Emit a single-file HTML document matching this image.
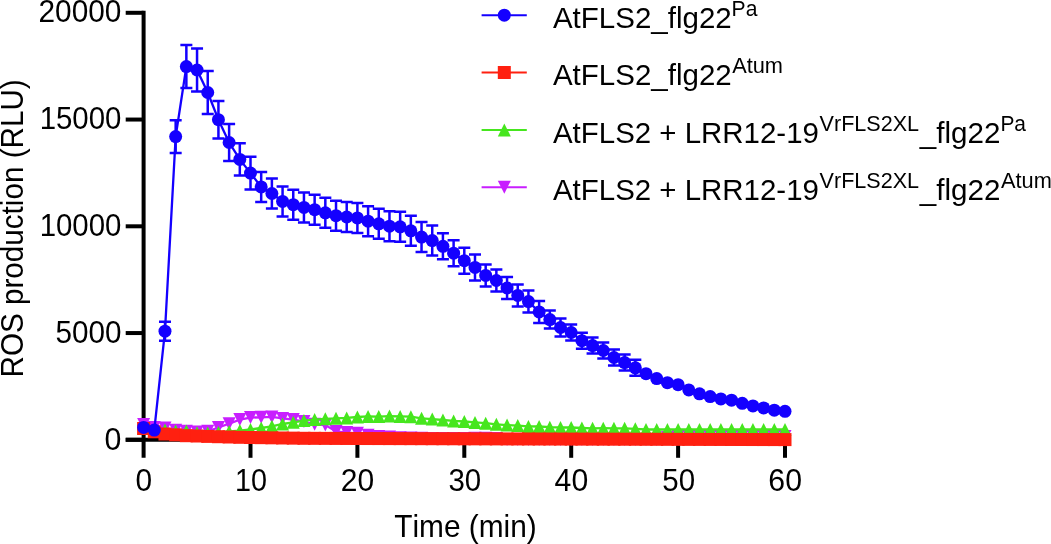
<!DOCTYPE html>
<html><head><meta charset="utf-8"><style>
html,body{margin:0;padding:0;background:#fff;}
body{width:1051px;height:544px;overflow:hidden;position:relative;}
svg{position:absolute;left:0;top:0;will-change:transform;}
text{font-family:"Liberation Sans",sans-serif;fill:#000;font-kerning:none;}
</style></head><body>
<svg width="1051" height="544" viewBox="0 0 1051 544">

<g stroke="#000" stroke-width="4" fill="none" stroke-linecap="butt">
<line x1="143.6" y1="10.8" x2="143.6" y2="457.8"/>
<line x1="125.7" y1="439.8" x2="787.0" y2="439.8"/>
<line x1="125.7" y1="439.80" x2="143.6" y2="439.80"/>
<line x1="125.7" y1="333.05" x2="143.6" y2="333.05"/>
<line x1="125.7" y1="226.30" x2="143.6" y2="226.30"/>
<line x1="125.7" y1="119.55" x2="143.6" y2="119.55"/>
<line x1="125.7" y1="12.80" x2="143.6" y2="12.80"/>
<line x1="250.50" y1="439.8" x2="250.50" y2="457.8"/>
<line x1="357.40" y1="439.8" x2="357.40" y2="457.8"/>
<line x1="464.30" y1="439.8" x2="464.30" y2="457.8"/>
<line x1="571.20" y1="439.8" x2="571.20" y2="457.8"/>
<line x1="678.10" y1="439.8" x2="678.10" y2="457.8"/>
<line x1="785.00" y1="439.8" x2="785.00" y2="457.8"/>
</g>
<text transform="translate(38.50,22.45) scale(0.9750,1)" font-size="30.60">20000</text>
<text transform="translate(39.66,129.30) scale(0.9612,1)" font-size="30.60">15000</text>
<text transform="translate(39.66,236.15) scale(0.9612,1)" font-size="30.60">10000</text>
<text transform="translate(55.41,343.00) scale(0.9703,1)" font-size="30.60">5000</text>
<text transform="translate(104.62,449.85) scale(0.9913,1)" font-size="30.60">0</text>
<text transform="translate(135.53,490.80) scale(0.9776,1)" font-size="30.60">0</text>
<text transform="translate(235.01,490.80) scale(0.9407,1)" font-size="30.60">10</text>
<text transform="translate(340.69,490.80) scale(0.9808,1)" font-size="30.60">20</text>
<text transform="translate(448.38,490.80) scale(0.9629,1)" font-size="30.60">30</text>
<text transform="translate(554.61,490.80) scale(0.9863,1)" font-size="30.60">40</text>
<text transform="translate(662.22,490.80) scale(0.9647,1)" font-size="30.60">50</text>
<text transform="translate(768.37,490.80) scale(0.9876,1)" font-size="30.60">60</text>
<text transform="translate(394.23,536.90) scale(0.9781,1)" font-size="30.52">Time (min)</text>
<text transform="translate(22.8,377.53) rotate(-90) scale(0.9721,1)" font-size="30.52">ROS production (RLU)</text>
<g fill="#c81eff" stroke="none">
<polyline points="143.60,424.60 154.29,427.50 164.98,428.00 175.67,430.30 186.36,431.30 197.05,432.00 207.74,431.30 218.43,427.50 229.12,423.70 239.81,419.60 250.50,417.60 261.19,417.30 271.88,416.90 282.57,418.40 293.26,419.60 303.95,421.60 314.64,424.30 325.33,425.10 336.02,431.40 346.71,432.60 357.40,433.30 368.09,435.20 378.78,436.60 389.47,437.00 400.16,437.75 410.85,438.10 421.54,438.30 432.23,438.40 442.92,438.50 453.61,438.50 464.30,438.50 474.99,438.30 485.68,438.30 496.37,438.50 507.06,439.50 517.75,439.50 528.44,439.50 539.13,439.50 549.82,439.50 560.51,439.50 571.20,439.50 581.89,439.50 592.58,439.50 603.27,439.50 613.96,439.50 624.65,439.50 635.34,439.50 646.03,439.50 656.72,439.50 667.41,437.50 678.10,436.50 688.79,436.50 699.48,436.50 710.17,436.50 720.86,436.50 731.55,436.50 742.24,436.50 752.93,436.50 763.62,436.50 774.31,436.50 785.00,436.50" fill="none" stroke="#c81eff" stroke-width="2.3"/>
<polygon points="137.10,418.10 150.10,418.10 143.60,431.10"/>
<polygon points="147.79,421.00 160.79,421.00 154.29,434.00"/>
<polygon points="158.48,421.50 171.48,421.50 164.98,434.50"/>
<polygon points="169.17,423.80 182.17,423.80 175.67,436.80"/>
<polygon points="179.86,424.80 192.86,424.80 186.36,437.80"/>
<polygon points="190.55,425.50 203.55,425.50 197.05,438.50"/>
<polygon points="201.24,424.80 214.24,424.80 207.74,437.80"/>
<polygon points="211.93,421.00 224.93,421.00 218.43,434.00"/>
<polygon points="222.62,417.20 235.62,417.20 229.12,430.20"/>
<polygon points="233.31,413.10 246.31,413.10 239.81,426.10"/>
<polygon points="244.00,411.10 257.00,411.10 250.50,424.10"/>
<polygon points="254.69,410.80 267.69,410.80 261.19,423.80"/>
<polygon points="265.38,410.40 278.38,410.40 271.88,423.40"/>
<polygon points="276.07,411.90 289.07,411.90 282.57,424.90"/>
<polygon points="286.76,413.10 299.76,413.10 293.26,426.10"/>
<polygon points="297.45,415.10 310.45,415.10 303.95,428.10"/>
<polygon points="308.14,417.80 321.14,417.80 314.64,430.80"/>
<polygon points="318.83,418.60 331.83,418.60 325.33,431.60"/>
<polygon points="329.52,424.90 342.52,424.90 336.02,437.90"/>
<polygon points="340.21,426.10 353.21,426.10 346.71,439.10"/>
<polygon points="350.90,426.80 363.90,426.80 357.40,439.80"/>
<polygon points="361.59,428.70 374.59,428.70 368.09,441.70"/>
<polygon points="372.28,430.10 385.28,430.10 378.78,443.10"/>
<polygon points="382.97,430.50 395.97,430.50 389.47,443.50"/>
<polygon points="393.66,431.25 406.66,431.25 400.16,444.25"/>
<polygon points="404.35,431.60 417.35,431.60 410.85,444.60"/>
<polygon points="415.04,431.80 428.04,431.80 421.54,444.80"/>
<polygon points="425.73,431.90 438.73,431.90 432.23,444.90"/>
<polygon points="436.42,432.00 449.42,432.00 442.92,445.00"/>
<polygon points="447.11,432.00 460.11,432.00 453.61,445.00"/>
<polygon points="457.80,432.00 470.80,432.00 464.30,445.00"/>
<polygon points="468.49,431.80 481.49,431.80 474.99,444.80"/>
<polygon points="479.18,431.80 492.18,431.80 485.68,444.80"/>
<polygon points="489.87,432.00 502.87,432.00 496.37,445.00"/>
<polygon points="500.56,433.00 513.56,433.00 507.06,446.00"/>
<polygon points="511.25,433.00 524.25,433.00 517.75,446.00"/>
<polygon points="521.94,433.00 534.94,433.00 528.44,446.00"/>
<polygon points="532.63,433.00 545.63,433.00 539.13,446.00"/>
<polygon points="543.32,433.00 556.32,433.00 549.82,446.00"/>
<polygon points="554.01,433.00 567.01,433.00 560.51,446.00"/>
<polygon points="564.70,433.00 577.70,433.00 571.20,446.00"/>
<polygon points="575.39,433.00 588.39,433.00 581.89,446.00"/>
<polygon points="586.08,433.00 599.08,433.00 592.58,446.00"/>
<polygon points="596.77,433.00 609.77,433.00 603.27,446.00"/>
<polygon points="607.46,433.00 620.46,433.00 613.96,446.00"/>
<polygon points="618.15,433.00 631.15,433.00 624.65,446.00"/>
<polygon points="628.84,433.00 641.84,433.00 635.34,446.00"/>
<polygon points="639.53,433.00 652.53,433.00 646.03,446.00"/>
<polygon points="650.22,433.00 663.22,433.00 656.72,446.00"/>
<polygon points="660.91,431.00 673.91,431.00 667.41,444.00"/>
<polygon points="671.60,430.00 684.60,430.00 678.10,443.00"/>
<polygon points="682.29,430.00 695.29,430.00 688.79,443.00"/>
<polygon points="692.98,430.00 705.98,430.00 699.48,443.00"/>
<polygon points="703.67,430.00 716.67,430.00 710.17,443.00"/>
<polygon points="714.36,430.00 727.36,430.00 720.86,443.00"/>
<polygon points="725.05,430.00 738.05,430.00 731.55,443.00"/>
<polygon points="735.74,430.00 748.74,430.00 742.24,443.00"/>
<polygon points="746.43,430.00 759.43,430.00 752.93,443.00"/>
<polygon points="757.12,430.00 770.12,430.00 763.62,443.00"/>
<polygon points="767.81,430.00 780.81,430.00 774.31,443.00"/>
<polygon points="778.50,430.00 791.50,430.00 785.00,443.00"/>
</g>
<g fill="#46e61e" stroke="none">
<polyline points="143.60,428.00 154.29,430.00 164.98,430.10 175.67,431.00 186.36,431.00 197.05,432.70 207.74,432.90 218.43,432.50 229.12,431.50 239.81,430.60 250.50,429.50 261.19,428.00 271.88,426.30 282.57,424.00 293.26,422.30 303.95,420.60 314.64,419.60 325.33,418.80 336.02,418.30 346.71,417.90 357.40,417.00 368.09,416.40 378.78,416.60 389.47,416.10 400.16,416.40 410.85,416.70 421.54,418.30 432.23,419.10 442.92,420.00 453.61,420.90 464.30,421.50 474.99,422.40 485.68,423.20 496.37,424.30 507.06,425.10 517.75,425.60 528.44,426.40 539.13,426.50 549.82,427.20 560.51,427.50 571.20,427.50 581.89,428.00 592.58,428.30 603.27,428.20 613.96,428.30 624.65,428.30 635.34,428.80 646.03,429.50 656.72,429.50 667.41,429.50 678.10,429.50 688.79,429.50 699.48,429.50 710.17,429.50 720.86,429.50 731.55,429.50 742.24,429.50 752.93,429.50 763.62,429.50 774.31,429.50 785.00,429.50" fill="none" stroke="#46e61e" stroke-width="2.3"/>
<polygon points="143.60,421.50 150.10,434.50 137.10,434.50"/>
<polygon points="154.29,423.50 160.79,436.50 147.79,436.50"/>
<polygon points="164.98,423.60 171.48,436.60 158.48,436.60"/>
<polygon points="175.67,424.50 182.17,437.50 169.17,437.50"/>
<polygon points="186.36,424.50 192.86,437.50 179.86,437.50"/>
<polygon points="197.05,426.20 203.55,439.20 190.55,439.20"/>
<polygon points="207.74,426.40 214.24,439.40 201.24,439.40"/>
<polygon points="218.43,426.00 224.93,439.00 211.93,439.00"/>
<polygon points="229.12,425.00 235.62,438.00 222.62,438.00"/>
<polygon points="239.81,424.10 246.31,437.10 233.31,437.10"/>
<polygon points="250.50,423.00 257.00,436.00 244.00,436.00"/>
<polygon points="261.19,421.50 267.69,434.50 254.69,434.50"/>
<polygon points="271.88,419.80 278.38,432.80 265.38,432.80"/>
<polygon points="282.57,417.50 289.07,430.50 276.07,430.50"/>
<polygon points="293.26,415.80 299.76,428.80 286.76,428.80"/>
<polygon points="303.95,414.10 310.45,427.10 297.45,427.10"/>
<polygon points="314.64,413.10 321.14,426.10 308.14,426.10"/>
<polygon points="325.33,412.30 331.83,425.30 318.83,425.30"/>
<polygon points="336.02,411.80 342.52,424.80 329.52,424.80"/>
<polygon points="346.71,411.40 353.21,424.40 340.21,424.40"/>
<polygon points="357.40,410.50 363.90,423.50 350.90,423.50"/>
<polygon points="368.09,409.90 374.59,422.90 361.59,422.90"/>
<polygon points="378.78,410.10 385.28,423.10 372.28,423.10"/>
<polygon points="389.47,409.60 395.97,422.60 382.97,422.60"/>
<polygon points="400.16,409.90 406.66,422.90 393.66,422.90"/>
<polygon points="410.85,410.20 417.35,423.20 404.35,423.20"/>
<polygon points="421.54,411.80 428.04,424.80 415.04,424.80"/>
<polygon points="432.23,412.60 438.73,425.60 425.73,425.60"/>
<polygon points="442.92,413.50 449.42,426.50 436.42,426.50"/>
<polygon points="453.61,414.40 460.11,427.40 447.11,427.40"/>
<polygon points="464.30,415.00 470.80,428.00 457.80,428.00"/>
<polygon points="474.99,415.90 481.49,428.90 468.49,428.90"/>
<polygon points="485.68,416.70 492.18,429.70 479.18,429.70"/>
<polygon points="496.37,417.80 502.87,430.80 489.87,430.80"/>
<polygon points="507.06,418.60 513.56,431.60 500.56,431.60"/>
<polygon points="517.75,419.10 524.25,432.10 511.25,432.10"/>
<polygon points="528.44,419.90 534.94,432.90 521.94,432.90"/>
<polygon points="539.13,420.00 545.63,433.00 532.63,433.00"/>
<polygon points="549.82,420.70 556.32,433.70 543.32,433.70"/>
<polygon points="560.51,421.00 567.01,434.00 554.01,434.00"/>
<polygon points="571.20,421.00 577.70,434.00 564.70,434.00"/>
<polygon points="581.89,421.50 588.39,434.50 575.39,434.50"/>
<polygon points="592.58,421.80 599.08,434.80 586.08,434.80"/>
<polygon points="603.27,421.70 609.77,434.70 596.77,434.70"/>
<polygon points="613.96,421.80 620.46,434.80 607.46,434.80"/>
<polygon points="624.65,421.80 631.15,434.80 618.15,434.80"/>
<polygon points="635.34,422.30 641.84,435.30 628.84,435.30"/>
<polygon points="646.03,423.00 652.53,436.00 639.53,436.00"/>
<polygon points="656.72,423.00 663.22,436.00 650.22,436.00"/>
<polygon points="667.41,423.00 673.91,436.00 660.91,436.00"/>
<polygon points="678.10,423.00 684.60,436.00 671.60,436.00"/>
<polygon points="688.79,423.00 695.29,436.00 682.29,436.00"/>
<polygon points="699.48,423.00 705.98,436.00 692.98,436.00"/>
<polygon points="710.17,423.00 716.67,436.00 703.67,436.00"/>
<polygon points="720.86,423.00 727.36,436.00 714.36,436.00"/>
<polygon points="731.55,423.00 738.05,436.00 725.05,436.00"/>
<polygon points="742.24,423.00 748.74,436.00 735.74,436.00"/>
<polygon points="752.93,423.00 759.43,436.00 746.43,436.00"/>
<polygon points="763.62,423.00 770.12,436.00 757.12,436.00"/>
<polygon points="774.31,423.00 780.81,436.00 767.81,436.00"/>
<polygon points="785.00,423.00 791.50,436.00 778.50,436.00"/>
</g>
<g fill="#ff2010" stroke="none">
<polyline points="143.60,428.50 154.29,431.80 164.98,434.00 175.67,434.80 186.36,435.70 197.05,436.00 207.74,436.40 218.43,436.70 229.12,437.00 239.81,437.30 250.50,437.50 261.19,437.66 271.88,437.82 282.57,437.98 293.26,438.14 303.95,438.30 314.64,438.34 325.33,438.38 336.02,438.42 346.71,438.46 357.40,438.50 368.09,438.53 378.78,438.56 389.47,438.59 400.16,438.62 410.85,438.65 421.54,438.68 432.23,438.71 442.92,438.74 453.61,438.77 464.30,438.80 474.99,438.83 485.68,438.86 496.37,438.89 507.06,438.92 517.75,438.95 528.44,438.98 539.13,439.01 549.82,439.04 560.51,439.07 571.20,439.10 581.89,439.12 592.58,439.15 603.27,439.18 613.96,439.20 624.65,439.23 635.34,439.25 646.03,439.28 656.72,439.30 667.41,439.33 678.10,439.35 688.79,439.38 699.48,439.40 710.17,439.43 720.86,439.45 731.55,439.48 742.24,439.50 752.93,439.53 763.62,439.55 774.31,439.58 785.00,439.60" fill="none" stroke="#ff2010" stroke-width="2.3"/>
<rect x="137.10" y="422.00" width="13.0" height="13.0"/>
<rect x="147.79" y="425.30" width="13.0" height="13.0"/>
<rect x="158.48" y="427.50" width="13.0" height="13.0"/>
<rect x="169.17" y="428.30" width="13.0" height="13.0"/>
<rect x="179.86" y="429.20" width="13.0" height="13.0"/>
<rect x="190.55" y="429.50" width="13.0" height="13.0"/>
<rect x="201.24" y="429.90" width="13.0" height="13.0"/>
<rect x="211.93" y="430.20" width="13.0" height="13.0"/>
<rect x="222.62" y="430.50" width="13.0" height="13.0"/>
<rect x="233.31" y="430.80" width="13.0" height="13.0"/>
<rect x="244.00" y="431.00" width="13.0" height="13.0"/>
<rect x="254.69" y="431.16" width="13.0" height="13.0"/>
<rect x="265.38" y="431.32" width="13.0" height="13.0"/>
<rect x="276.07" y="431.48" width="13.0" height="13.0"/>
<rect x="286.76" y="431.64" width="13.0" height="13.0"/>
<rect x="297.45" y="431.80" width="13.0" height="13.0"/>
<rect x="308.14" y="431.84" width="13.0" height="13.0"/>
<rect x="318.83" y="431.88" width="13.0" height="13.0"/>
<rect x="329.52" y="431.92" width="13.0" height="13.0"/>
<rect x="340.21" y="431.96" width="13.0" height="13.0"/>
<rect x="350.90" y="432.00" width="13.0" height="13.0"/>
<rect x="361.59" y="432.03" width="13.0" height="13.0"/>
<rect x="372.28" y="432.06" width="13.0" height="13.0"/>
<rect x="382.97" y="432.09" width="13.0" height="13.0"/>
<rect x="393.66" y="432.12" width="13.0" height="13.0"/>
<rect x="404.35" y="432.15" width="13.0" height="13.0"/>
<rect x="415.04" y="432.18" width="13.0" height="13.0"/>
<rect x="425.73" y="432.21" width="13.0" height="13.0"/>
<rect x="436.42" y="432.24" width="13.0" height="13.0"/>
<rect x="447.11" y="432.27" width="13.0" height="13.0"/>
<rect x="457.80" y="432.30" width="13.0" height="13.0"/>
<rect x="468.49" y="432.33" width="13.0" height="13.0"/>
<rect x="479.18" y="432.36" width="13.0" height="13.0"/>
<rect x="489.87" y="432.39" width="13.0" height="13.0"/>
<rect x="500.56" y="432.42" width="13.0" height="13.0"/>
<rect x="511.25" y="432.45" width="13.0" height="13.0"/>
<rect x="521.94" y="432.48" width="13.0" height="13.0"/>
<rect x="532.63" y="432.51" width="13.0" height="13.0"/>
<rect x="543.32" y="432.54" width="13.0" height="13.0"/>
<rect x="554.01" y="432.57" width="13.0" height="13.0"/>
<rect x="564.70" y="432.60" width="13.0" height="13.0"/>
<rect x="575.39" y="432.62" width="13.0" height="13.0"/>
<rect x="586.08" y="432.65" width="13.0" height="13.0"/>
<rect x="596.77" y="432.68" width="13.0" height="13.0"/>
<rect x="607.46" y="432.70" width="13.0" height="13.0"/>
<rect x="618.15" y="432.73" width="13.0" height="13.0"/>
<rect x="628.84" y="432.75" width="13.0" height="13.0"/>
<rect x="639.53" y="432.78" width="13.0" height="13.0"/>
<rect x="650.22" y="432.80" width="13.0" height="13.0"/>
<rect x="660.91" y="432.83" width="13.0" height="13.0"/>
<rect x="671.60" y="432.85" width="13.0" height="13.0"/>
<rect x="682.29" y="432.88" width="13.0" height="13.0"/>
<rect x="692.98" y="432.90" width="13.0" height="13.0"/>
<rect x="703.67" y="432.93" width="13.0" height="13.0"/>
<rect x="714.36" y="432.95" width="13.0" height="13.0"/>
<rect x="725.05" y="432.98" width="13.0" height="13.0"/>
<rect x="735.74" y="433.00" width="13.0" height="13.0"/>
<rect x="746.43" y="433.03" width="13.0" height="13.0"/>
<rect x="757.12" y="433.05" width="13.0" height="13.0"/>
<rect x="767.81" y="433.08" width="13.0" height="13.0"/>
<rect x="778.50" y="433.10" width="13.0" height="13.0"/>
</g>
<g fill="#1400ff" stroke="none">
<path d="M164.98,321.70V340.70M158.98,321.70H170.98M158.98,340.70H170.98M175.67,120.20V153.00M169.67,120.20H181.67M169.67,153.00H181.67M186.36,45.10V88.10M180.36,45.10H192.36M180.36,88.10H192.36M197.05,48.50V91.50M191.05,48.50H203.05M191.05,91.50H203.05M207.74,71.00V114.00M201.74,71.00H213.74M201.74,114.00H213.74M218.43,101.00V138.40M212.43,101.00H224.43M212.43,138.40H224.43M229.12,124.10V160.90M223.12,124.10H235.12M223.12,160.90H235.12M239.81,143.20V175.60M233.81,143.20H245.81M233.81,175.60H245.81M250.50,156.80V189.40M244.50,156.80H256.50M244.50,189.40H256.50M261.19,171.90V201.90M255.19,171.90H267.19M255.19,201.90H267.19M271.88,178.50V208.50M265.88,178.50H277.88M265.88,208.50H277.88M282.57,186.40V216.40M276.57,186.40H288.57M276.57,216.40H288.57M293.26,189.70V219.70M287.26,189.70H299.26M287.26,219.70H299.26M303.95,192.40V222.40M297.95,192.40H309.95M297.95,222.40H309.95M314.64,194.70V224.70M308.64,194.70H320.64M308.64,224.70H320.64M325.33,197.80V227.80M319.33,197.80H331.33M319.33,227.80H331.33M336.02,200.70V230.70M330.02,200.70H342.02M330.02,230.70H342.02M346.71,202.00V232.00M340.71,202.00H352.71M340.71,232.00H352.71M357.40,202.90V232.90M351.40,202.90H363.40M351.40,232.90H363.40M368.09,206.20V236.20M362.09,206.20H374.09M362.09,236.20H374.09M378.78,208.80V238.80M372.78,208.80H384.78M372.78,238.80H384.78M389.47,211.20V241.20M383.47,211.20H395.47M383.47,241.20H395.47M400.16,211.80V241.80M394.16,211.80H406.16M394.16,241.80H406.16M410.85,215.80V245.80M404.85,215.80H416.85M404.85,245.80H416.85M421.54,222.10V252.10M415.54,222.10H427.54M415.54,252.10H427.54M432.23,225.60V255.60M426.23,225.60H438.23M426.23,255.60H438.23M442.92,233.30V259.30M436.92,233.30H448.92M436.92,259.30H448.92M453.61,240.20V266.20M447.61,240.20H459.61M447.61,266.20H459.61M464.30,247.70V273.70M458.30,247.70H470.30M458.30,273.70H470.30M474.99,254.40V280.40M468.99,254.40H480.99M468.99,280.40H480.99M485.68,264.40V286.40M479.68,264.40H491.68M479.68,286.40H491.68M496.37,269.50V291.50M490.37,269.50H502.37M490.37,291.50H502.37M507.06,277.00V299.00M501.06,277.00H513.06M501.06,299.00H513.06M517.75,284.40V306.40M511.75,284.40H523.75M511.75,306.40H523.75M528.44,290.60V312.60M522.44,290.60H534.44M522.44,312.60H534.44M539.13,300.90V322.90M533.13,300.90H545.13M533.13,322.90H545.13M549.82,310.60V328.60M543.82,310.60H555.82M543.82,328.60H555.82M560.51,318.50V336.50M554.51,318.50H566.51M554.51,336.50H566.51M571.20,324.50V340.50M565.20,324.50H577.20M565.20,340.50H577.20M581.89,332.70V348.70M575.89,332.70H587.89M575.89,348.70H587.89M592.58,337.60V353.60M586.58,337.60H598.58M586.58,353.60H598.58M603.27,342.50V358.50M597.27,342.50H609.27M597.27,358.50H609.27M613.96,349.50V365.50M607.96,349.50H619.96M607.96,365.50H619.96M624.65,354.60V370.60M618.65,354.60H630.65M618.65,370.60H630.65M635.34,359.80V375.80M629.34,359.80H641.34M629.34,375.80H641.34" fill="none" stroke="#1400ff" stroke-width="2.5"/>
<polyline points="143.60,427.40 154.29,430.10 164.98,331.20 175.67,136.60 186.36,66.60 197.05,70.00 207.74,92.50 218.43,119.70 229.12,142.50 239.81,159.40 250.50,173.10 261.19,186.90 271.88,193.50 282.57,201.40 293.26,204.70 303.95,207.40 314.64,209.70 325.33,212.80 336.02,215.70 346.71,217.00 357.40,217.90 368.09,221.20 378.78,223.80 389.47,226.20 400.16,226.80 410.85,230.80 421.54,237.10 432.23,240.60 442.92,246.30 453.61,253.20 464.30,260.70 474.99,267.40 485.68,275.40 496.37,280.50 507.06,288.00 517.75,295.40 528.44,301.60 539.13,311.90 549.82,319.60 560.51,327.50 571.20,332.50 581.89,340.70 592.58,345.60 603.27,350.50 613.96,357.50 624.65,362.60 635.34,367.80 646.03,373.70 656.72,378.60 667.41,382.70 678.10,384.70 688.79,389.90 699.48,393.80 710.17,396.60 720.86,398.90 731.55,400.20 742.24,403.30 752.93,405.90 763.62,407.90 774.31,410.20 785.00,411.30" fill="none" stroke="#1400ff" stroke-width="2.3"/>
<circle cx="143.60" cy="427.40" r="6.5"/>
<circle cx="154.29" cy="430.10" r="6.5"/>
<circle cx="164.98" cy="331.20" r="6.5"/>
<circle cx="175.67" cy="136.60" r="6.5"/>
<circle cx="186.36" cy="66.60" r="6.5"/>
<circle cx="197.05" cy="70.00" r="6.5"/>
<circle cx="207.74" cy="92.50" r="6.5"/>
<circle cx="218.43" cy="119.70" r="6.5"/>
<circle cx="229.12" cy="142.50" r="6.5"/>
<circle cx="239.81" cy="159.40" r="6.5"/>
<circle cx="250.50" cy="173.10" r="6.5"/>
<circle cx="261.19" cy="186.90" r="6.5"/>
<circle cx="271.88" cy="193.50" r="6.5"/>
<circle cx="282.57" cy="201.40" r="6.5"/>
<circle cx="293.26" cy="204.70" r="6.5"/>
<circle cx="303.95" cy="207.40" r="6.5"/>
<circle cx="314.64" cy="209.70" r="6.5"/>
<circle cx="325.33" cy="212.80" r="6.5"/>
<circle cx="336.02" cy="215.70" r="6.5"/>
<circle cx="346.71" cy="217.00" r="6.5"/>
<circle cx="357.40" cy="217.90" r="6.5"/>
<circle cx="368.09" cy="221.20" r="6.5"/>
<circle cx="378.78" cy="223.80" r="6.5"/>
<circle cx="389.47" cy="226.20" r="6.5"/>
<circle cx="400.16" cy="226.80" r="6.5"/>
<circle cx="410.85" cy="230.80" r="6.5"/>
<circle cx="421.54" cy="237.10" r="6.5"/>
<circle cx="432.23" cy="240.60" r="6.5"/>
<circle cx="442.92" cy="246.30" r="6.5"/>
<circle cx="453.61" cy="253.20" r="6.5"/>
<circle cx="464.30" cy="260.70" r="6.5"/>
<circle cx="474.99" cy="267.40" r="6.5"/>
<circle cx="485.68" cy="275.40" r="6.5"/>
<circle cx="496.37" cy="280.50" r="6.5"/>
<circle cx="507.06" cy="288.00" r="6.5"/>
<circle cx="517.75" cy="295.40" r="6.5"/>
<circle cx="528.44" cy="301.60" r="6.5"/>
<circle cx="539.13" cy="311.90" r="6.5"/>
<circle cx="549.82" cy="319.60" r="6.5"/>
<circle cx="560.51" cy="327.50" r="6.5"/>
<circle cx="571.20" cy="332.50" r="6.5"/>
<circle cx="581.89" cy="340.70" r="6.5"/>
<circle cx="592.58" cy="345.60" r="6.5"/>
<circle cx="603.27" cy="350.50" r="6.5"/>
<circle cx="613.96" cy="357.50" r="6.5"/>
<circle cx="624.65" cy="362.60" r="6.5"/>
<circle cx="635.34" cy="367.80" r="6.5"/>
<circle cx="646.03" cy="373.70" r="6.5"/>
<circle cx="656.72" cy="378.60" r="6.5"/>
<circle cx="667.41" cy="382.70" r="6.5"/>
<circle cx="678.10" cy="384.70" r="6.5"/>
<circle cx="688.79" cy="389.90" r="6.5"/>
<circle cx="699.48" cy="393.80" r="6.5"/>
<circle cx="710.17" cy="396.60" r="6.5"/>
<circle cx="720.86" cy="398.90" r="6.5"/>
<circle cx="731.55" cy="400.20" r="6.5"/>
<circle cx="742.24" cy="403.30" r="6.5"/>
<circle cx="752.93" cy="405.90" r="6.5"/>
<circle cx="763.62" cy="407.90" r="6.5"/>
<circle cx="774.31" cy="410.20" r="6.5"/>
<circle cx="785.00" cy="411.30" r="6.5"/>
</g>
<g fill="#1400ff"><line x1="481.6" y1="15.2" x2="526.8" y2="15.2" stroke="#1400ff" stroke-width="2"/><circle cx="504.30" cy="15.20" r="6.5"/></g>
<g fill="#ff2010"><line x1="481.6" y1="72.5" x2="526.8" y2="72.5" stroke="#ff2010" stroke-width="2"/><rect x="497.80" y="66.00" width="13.0" height="13.0"/></g>
<g fill="#46e61e"><line x1="481.6" y1="129.9" x2="526.8" y2="129.9" stroke="#46e61e" stroke-width="2"/><polygon points="504.30,123.40 510.80,136.40 497.80,136.40"/></g>
<g fill="#c81eff"><line x1="481.6" y1="187.2" x2="526.8" y2="187.2" stroke="#c81eff" stroke-width="2"/><polygon points="497.80,180.70 510.80,180.70 504.30,193.70"/></g>
<text transform="translate(552.94,27.60) scale(0.9716,1)" font-size="30.38">AtFLS2_flg22</text>
<text transform="translate(731.57,15.60) scale(0.9374,1)" font-size="22.53">Pa</text>
<text transform="translate(552.94,84.80) scale(0.9716,1)" font-size="30.38">AtFLS2_flg22</text>
<text transform="translate(732.16,72.80) scale(0.9676,1)" font-size="22.53">Atum</text>
<text transform="translate(552.94,142.60) scale(0.9700,1)" font-size="30.38">AtFLS2 + LRR12-19</text>
<text transform="translate(819.61,130.60) scale(0.9575,1)" font-size="22.53">VrFLS2XL</text>
<text transform="translate(919.85,142.60) scale(0.9743,1)" font-size="30.38">_flg22</text>
<text transform="translate(1000.38,130.60) scale(0.9297,1)" font-size="22.53">Pa</text>
<text transform="translate(552.94,199.80) scale(0.9700,1)" font-size="30.38">AtFLS2 + LRR12-19</text>
<text transform="translate(819.61,187.80) scale(0.9575,1)" font-size="22.53">VrFLS2XL</text>
<text transform="translate(919.85,199.80) scale(0.9743,1)" font-size="30.38">_flg22</text>
<text transform="translate(1000.96,187.80) scale(0.9676,1)" font-size="22.53">Atum</text>
</svg></body></html>
